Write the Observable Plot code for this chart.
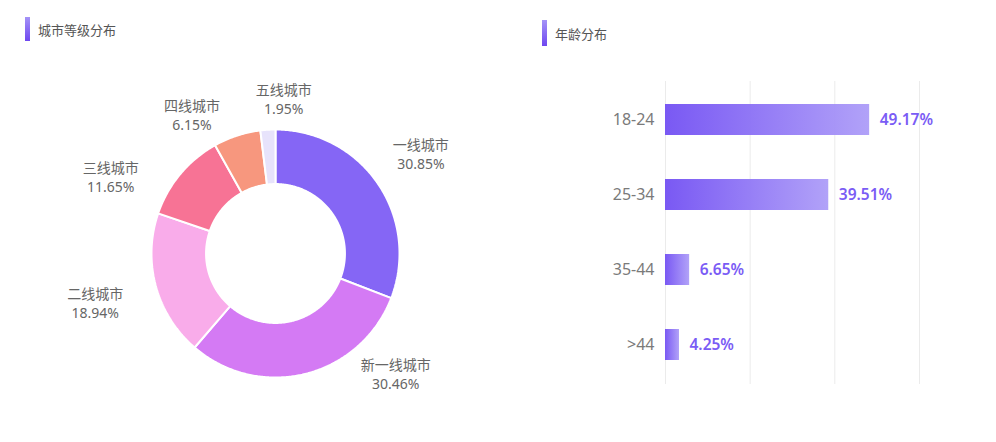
<!DOCTYPE html>
<html>
<head>
<meta charset="utf-8">
<script src="https://cdn.jsdelivr.net/npm/d3@7"></script>
<script src="https://cdn.jsdelivr.net/npm/@observablehq/plot@0.6"></script>
<style>
  html, body { margin: 0; padding: 0; background: #fff; }
  #root { position: relative; width: 996px; height: 442px; overflow: hidden;
          font-family: "Noto Sans", "Noto Sans CJK SC", sans-serif; }
  .title { position: absolute; display: flex; align-items: center; font-size: 13px; color: #555;
           font-family: "Noto Sans CJK SC", "Noto Sans", sans-serif; }
  .title .mark { width: 5px; height: 24px; margin-right: 8px;
                 background: linear-gradient(to bottom, #a493f7, #6f47f0); }
  .panel { position: absolute; top: 50px; }
</style>
</head>
<body>
<div id="root">
  <div class="title" style="left:25px; top:17px;"><div class="mark"></div><span>城市等级分布</span></div>
  <div class="title" style="left:542px; top:20px;"><div class="mark" style="height:26px"></div><span>年龄分布</span></div>
  <div id="pie" class="panel" style="left:0px;"></div>
  <div id="bar" class="panel" style="left:520px;"></div>
</div>
<script>
// ---------- data ----------
const cityTiers = ["一线城市", "新一线城市", "二线城市", "三线城市", "四线城市", "五线城市"];
const cityShares = [30.85, 30.46, 18.94, 11.65, 6.15, 1.95];
const cityColors = ["#8566f5", "#d47af4", "#f9acea", "#f77395", "#f7977e", "#e7e3fb"];

const ageGroups = ["18-24", "25-34", "35-44", ">44"];
const ageShares = [49.17, 39.51, 6.65, 4.25];
const ageTicks = [0, 20, 40, 60];

// ---------- donut ----------
const FONT = '"Noto Sans", "Noto Sans CJK SC", sans-serif';
const cx = 275, cy = 203, R = 124;      // pie centre / outer radius (px, inside the svg)
const innerRatio = 0.56;
const pieW = 520, pieH = 392;

const arcs = d3.pie().sort(null).value(d => d)(cityShares);
const slices = arcs.map((a, i) => {
  const pts = [];
  const n = Math.max(8, Math.ceil((a.endAngle - a.startAngle) / 0.01));
  for (let k = 0; k <= n; k++) {
    const t = a.startAngle + (a.endAngle - a.startAngle) * k / n;
    pts.push({x: Math.sin(t), y: Math.cos(t)});
  }
  for (let k = n; k >= 0; k--) {
    const t = a.startAngle + (a.endAngle - a.startAngle) * k / n;
    pts.push({x: innerRatio * Math.sin(t), y: innerRatio * Math.cos(t)});
  }
  return {points: pts, color: cityColors[i]};
});

// label layout: mid angles, relaxed so neighbours keep a minimum angular gap
const ang = arcs.map(a => (a.startAngle + a.endAngle) / 2 * 180 / Math.PI);
const wts = cityShares.slice();
const minSep = 34;
for (let it = 0; it < 400; it++) {
  for (let i = 0; i < ang.length; i++) {
    const j = (i + 1) % ang.length;
    const aj = j === 0 ? ang[0] + 360 : ang[j];
    const gap = aj - ang[i];
    if (gap < minSep) {
      const d = minSep - gap, s = wts[i] + wts[j];
      ang[i] -= d * wts[i] / s;
      ang[j] += d * wts[j] / s;
    }
  }
}
const rx = 190, ry = 155, maxDy = 120;
const labels = cityTiers.map((name, i) => {
  const t = ang[i] * Math.PI / 180;
  const s = Math.sin(t), c = Math.cos(t);
  const r = 1 / Math.sqrt(s * s / (rx * rx) + c * c / (ry * ry));
  let dx = r * s, dy = -r * c;
  if (dy > maxDy) { dy = maxDy; dx = Math.sign(dx) * rx * Math.sqrt(1 - (dy / ry) ** 2); }
  return {x: dx / R, y: -dy / R, text: `${name}\n${cityShares[i].toFixed(2)}%`};
});

const pie = Plot.plot({
  width: pieW, height: pieH,
  style: {fontFamily: FONT, background: "transparent"},
  x: {domain: [-1, 1], range: [cx - R, cx + R], axis: null},
  y: {domain: [-1, 1], range: [cy + R, cy - R], axis: null},
  marks: [
    ...slices.map(s => Plot.line(s.points, {
      x: "x", y: "y", curve: "linear-closed",
      fill: s.color, stroke: "#fff", strokeWidth: 2, strokeLinejoin: "miter"
    })),
    Plot.text(labels, {
      x: "x", y: "y", text: "text", fontSize: 14, lineHeight: 1.36,
      lineAnchor: "middle", textAnchor: "middle", fill: "#666"
    })
  ]
});
document.getElementById("pie").appendChild(pie);

// ---------- bars ----------
const ageData = ageGroups.map((g, i) => ({group: g, pct: ageShares[i]}));
const defs = () => {
  const ns = "http://www.w3.org/2000/svg";
  const d = document.createElementNS(ns, "defs");
  const lg = document.createElementNS(ns, "linearGradient");
  lg.setAttribute("id", "ageGrad");
  lg.setAttribute("x1", "0"); lg.setAttribute("x2", "1");
  lg.setAttribute("y1", "0"); lg.setAttribute("y2", "0");
  [["0%", "#7452f3"], ["100%", "#ae9ef8"]].forEach(([o, c]) => {
    const st = document.createElementNS(ns, "stop");
    st.setAttribute("offset", o); st.setAttribute("stop-color", c);
    lg.appendChild(st);
  });
  d.appendChild(lg);
  return d;
};

const bar = Plot.plot({
  width: 476, height: 392,
  marginLeft: 145, marginRight: 77, marginTop: 31, marginBottom: 58,
  style: {fontFamily: FONT, background: "transparent"},
  x: {domain: [0, 60], axis: null},
  y: {domain: ageGroups, paddingInner: 0.585, paddingOuter: 0.2925, label: null},
  marks: [
    defs,
    Plot.gridX(ageTicks, {stroke: "#ebebeb", strokeOpacity: 1}),
    Plot.barX(ageData, {x: "pct", y: "group", fill: "url(#ageGrad)", fillOpacity: 0.96, insetRight: 4}),
    Plot.axisY({tickSize: 0, tickPadding: 11, fontSize: 16, fill: "#7a7a7a", label: null}),
    Plot.text(ageData, {
      x: "pct", y: "group", text: d => d.pct.toFixed(2) + "%",
      dx: 6, textAnchor: "start", fontSize: 15.5, fontWeight: 600, fill: "#7a5cf5"
    })
  ]
});
document.getElementById("bar").appendChild(bar);
</script>
</body>
</html>
